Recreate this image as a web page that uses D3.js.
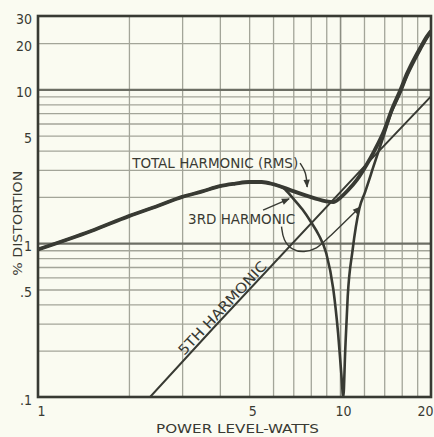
<!DOCTYPE html>
<html>
<head>
<meta charset="utf-8">
<script src="https://cdn.jsdelivr.net/npm/d3@7"></script>
<style>
  body { margin: 0; background: #fafbf1; }
  svg { display: block; }
  text { font-family: "DejaVu Sans Condensed", "Liberation Sans Narrow", sans-serif; fill: #393a33; }
</style>
</head>
<body>
<div id="chart"></div>
<script>
// axis ticks + grid
const powerTicks = [1, 5, 10, 20];
const powerTickLabels = ["1", "5", "10", "20"];
const pctTicks = [30, 20, 10, 5, 1, 0.5, 0.1];
const pctTickLabels = ["30", "20", "10", "5", "1", ".5", ".1"];
const powerGrid = [2, 3, 4, 5, 6, 7, 8, 9, 10, 12, 14, 16, 18];
const pctGrid = [0.2, 0.3, 0.4, 0.5, 0.6, 0.7, 0.8, 0.9, 1, 2, 3, 4, 5, 6, 7, 8, 9, 10, 20];
const majorGrid = [1, 10];

// curves (watts, % distortion)
const totalWatts = [1, 1.5, 2, 2.5, 3, 3.5, 4, 4.5, 5, 5.5, 6, 6.5, 7, 7.6, 8.3, 9, 9.5, 10, 10.6, 11.4, 12.2, 13, 14, 14.8, 15.8, 16.7, 17.6, 18.5, 19.3, 20];
const totalPct = [0.91, 1.2, 1.5, 1.75, 2.0, 2.17, 2.35, 2.44, 2.5, 2.5, 2.42, 2.3, 2.18, 2.06, 1.95, 1.87, 1.85, 1.97, 2.2, 2.6, 3.2, 4.0, 5.4, 7.3, 9.8, 12.8, 15.8, 18.9, 21.8, 24];
const thirdWatts = [1, 1.5, 2, 2.5, 3, 3.5, 4, 4.5, 5, 5.5, 6, 6.5, 7, 7.5, 8, 8.5, 9, 9.5, 9.85, 10.1, 10.25, 10.4, 10.6, 11, 11.6, 12.1, 13, 14, 14.8, 15.8, 16.7, 17.6, 18.5, 19.3, 20];
const thirdPct = [0.91, 1.2, 1.5, 1.75, 2.0, 2.17, 2.35, 2.44, 2.5, 2.5, 2.42, 2.28, 1.95, 1.66, 1.38, 1.13, 0.86, 0.5, 0.26, 0.14, 0.1, 0.2, 0.45, 0.9, 1.7, 2.15, 3.3, 5.1, 7.1, 9.4, 12.3, 15.2, 18.3, 21.2, 23.5];
const fifthWatts = [2.35, 3.8, 12.3, 20];
const fifthPct = [0.1, 0.28, 3.3, 9];

const W = 434, H = 437;
const margin = { top: 16, right: 3, bottom: 40, left: 38 };
const ink = "#383a33";

const svg = d3.select("#chart").append("svg").attr("width", W).attr("height", H);
svg.append("rect").attr("width", W).attr("height", H).attr("fill", "#fafbf1");

const x = d3.scaleLog().domain([1, 20]).range([margin.left, W - margin.right]);
const y = d3.scaleLog().domain([0.1, 30]).range([H - margin.bottom, margin.top]);
const plotH = y(0.1) - y(30);
const plotW = x(20) - x(1);

svg.append("defs").append("clipPath").attr("id", "plot")
  .append("rect").attr("x", x(1)).attr("y", y(30)).attr("width", plotW).attr("height", plotH);

// grid
svg.append("g")
  .attr("transform", `translate(0,${y(0.1)})`)
  .call(d3.axisBottom(x).tickValues(powerGrid).tickSize(-plotH).tickFormat(""))
  .call(g => g.select(".domain").remove())
  .selectAll("line")
  .attr("stroke", d => d === 10 ? "#8c8e83" : "#a3a599")
  .attr("stroke-width", d => d === 10 ? 1.6 : 1.3);

svg.append("g")
  .attr("transform", `translate(${x(1)},0)`)
  .call(d3.axisLeft(y).tickValues(pctGrid).tickSize(-plotW).tickFormat(""))
  .call(g => g.select(".domain").remove())
  .selectAll("line")
  .attr("stroke", d => majorGrid.includes(d) ? "#6c6e64" : "#a3a599")
  .attr("stroke-width", d => majorGrid.includes(d) ? 2.2 : 1.3);

// frame
svg.append("rect")
  .attr("x", x(1)).attr("y", y(30)).attr("width", plotW).attr("height", plotH)
  .attr("fill", "none").attr("stroke", ink).attr("stroke-width", 2.6);

// tick labels
const xAxis = svg.append("g")
  .attr("transform", `translate(0,${y(0.1)})`)
  .call(d3.axisBottom(x).tickValues(powerTicks).tickSize(0).tickPadding(9)
    .tickFormat((d, i) => powerTickLabels[i]));
xAxis.select(".domain").remove();
xAxis.selectAll("text")
  .attr("font-size", 14).attr("fill", "#393a33")
  .attr("text-anchor", d => d === 20 ? "end" : "middle")
  .attr("dx", d => d === 20 ? 2 : 3);

const yAxis = svg.append("g")
  .attr("transform", `translate(${x(1)},0)`)
  .call(d3.axisLeft(y).tickValues(pctTicks).tickSize(0).tickPadding(6)
    .tickFormat((d, i) => pctTickLabels[i]));
yAxis.select(".domain").remove();
yAxis.selectAll("text").attr("font-size", 14).attr("fill", "#393a33").attr("dy", "0.5em");

// axis titles
svg.append("text")
  .attr("x", (x(1) + x(20)) / 2 + 3).attr("y", 437)
  .attr("dy", "-0.3em")
  .attr("text-anchor", "middle").attr("font-size", 13)
  .attr("textLength", 163).attr("lengthAdjust", "spacingAndGlyphs")
  .text("POWER LEVEL-WATTS");

svg.append("text")
  .attr("transform", `translate(22,${y(1.35)}) rotate(-90)`)
  .attr("text-anchor", "middle").attr("font-size", 13)
  .attr("textLength", 105).attr("lengthAdjust", "spacingAndGlyphs")
  .text("% DISTORTION");

// curves
const line = d3.line().x(d => x(d[0])).y(d => y(d[1])).curve(d3.curveMonotoneX);
const plot = svg.append("g").attr("clip-path", "url(#plot)");

plot.append("path")
  .datum(fifthWatts.map((w, i) => [w, fifthPct[i]]))
  .attr("d", d3.line().x(d => x(d[0])).y(d => y(d[1])))
  .attr("fill", "none").attr("stroke", ink).attr("stroke-width", 2);

plot.append("path")
  .datum(thirdWatts.map((w, i) => [w, thirdPct[i]]))
  .attr("d", line)
  .attr("fill", "none").attr("stroke", ink).attr("stroke-width", 2.6);

plot.append("path")
  .datum(totalWatts.map((w, i) => [w, totalPct[i]]))
  .attr("d", line)
  .attr("fill", "none").attr("stroke", ink).attr("stroke-width", 3.8);

// labels
svg.append("text")
  .attr("x", x(2.05)).attr("y", y(3.1))
  .attr("font-size", 14)
  .attr("textLength", 166).attr("lengthAdjust", "spacingAndGlyphs")
  .text("TOTAL HARMONIC (RMS)");

svg.append("text")
  .attr("x", x(3.14)).attr("y", y(1.33))
  .attr("font-size", 14)
  .attr("textLength", 107).attr("lengthAdjust", "spacingAndGlyphs")
  .text("3RD HARMONIC");

// 5th harmonic label along its line
const f0 = [x(fifthWatts[0]), y(fifthPct[0])];
const f1 = [x(fifthWatts[3]), y(fifthPct[3])];
const ang = Math.atan2(f1[1] - f0[1], f1[0] - f0[0]) * 180 / Math.PI;
const midW = 4.26;
const midPct = Math.exp(Math.log(fifthPct[0]) + (Math.log(midW) - Math.log(fifthWatts[0])) *
  (Math.log(fifthPct[3]) - Math.log(fifthPct[0])) / (Math.log(fifthWatts[3]) - Math.log(fifthWatts[0])));
svg.append("text")
  .attr("transform", `translate(${x(midW)},${y(midPct)}) rotate(${ang})`)
  .attr("text-anchor", "middle").attr("dy", -3)
  .attr("font-size", 14)
  .attr("textLength", 122).attr("lengthAdjust", "spacingAndGlyphs")
  .text("5TH HARMONIC");

// leader arrows
svg.select("defs").append("marker")
  .attr("id", "arrowhead")
  .attr("viewBox", "0 -5 10 10")
  .attr("refX", 9).attr("refY", 0)
  .attr("orient", "auto")
  .attr("markerUnits", "userSpaceOnUse")
  .attr("markerWidth", 9).attr("markerHeight", 8)
  .append("path")
  .attr("d", "M0,-4L10,0L0,4Z")
  .attr("fill", ink);

const leader = d3.line().x(d => x(d[0])).y(d => y(d[1])).curve(d3.curveBasis);
const arrows = [
  [[7.37, 3.32], [7.72, 2.9], [7.78, 2.32]],
  [[5.56, 1.64], [6.78, 1.94]],
  [[6.4, 1.28], [6.48, 1.05], [6.93, 0.9], [7.6, 0.87], [8.39, 0.92], [8.99, 1.05], [11.65, 1.72]]
];
svg.append("g").selectAll("path")
  .data(arrows)
  .join("path")
  .attr("d", leader)
  .attr("fill", "none").attr("stroke", ink).attr("stroke-width", 1.4)
  .attr("marker-end", "url(#arrowhead)");
</script>
</body>
</html>
